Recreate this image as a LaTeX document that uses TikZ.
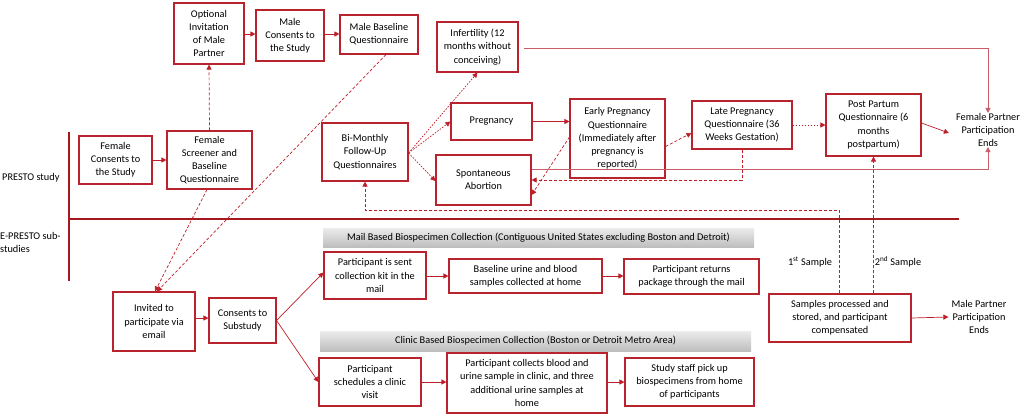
\documentclass[tikz,border=0pt]{standalone}
\usepackage{fontspec}
\setmainfont{Carlito}
\usetikzlibrary{arrows.meta}
\definecolor{boxred}{RGB}{185,35,45}
\definecolor{arrred}{RGB}{190,30,40}
\definecolor{linered}{RGB}{200,95,105}
\definecolor{divred}{RGB}{165,25,30}
\definecolor{barlight}{RGB}{236,236,236}
\definecolor{bardark}{RGB}{190,190,190}
\begin{document}
\begin{tikzpicture}[x=1pt,y=-1pt,
  every node/.style={font=\fontsize{10.3}{13.2}\selectfont, inner sep=0pt, align=center},
  box/.style={draw=boxred, line width=1.1pt, fill=white},
  bar/.style={top color=barlight, bottom color=bardark, draw=none},
  arr/.style={-{Triangle[length=5pt,width=5pt]}, color=arrred, line width=0.7pt},
  sol/.style={arr},
  dsh/.style={arr, dash pattern=on 3pt off 2pt},
  dot/.style={arr, dash pattern=on 1.6pt off 1.4pt},
  lng/.style={color=linered, line width=0.9pt},
]
\useasboundingbox (0,0) rectangle (1026,416);
% dividers
\draw[divred, line width=1.4pt] (69,132) -- (69,281);
\draw[divred, line width=1.4pt] (69,219) -- (959,219);
\node[anchor=west] (lpresto) at (2,178) {PRESTO study};
\node[anchor=west, align=left] (lepresto) at (0,242.5) {E-PRESTO sub-\\studies};
% top boxes
\node[box, minimum width=70, minimum height=61] (opt) at (209,33.5) {Optional\\Invitation\\of Male\\Partner};
\node[box, minimum width=68, minimum height=51] (mcons) at (290,35.5) {Male\\Consents to\\the Study};
\node[box, minimum width=78, minimum height=39] (mbase) at (379,34.5) {Male Baseline\\Questionnaire};
\node[box, minimum width=81, minimum height=50] (infert) at (477.5,47) {Infertility (12\\months without\\conceiving)};
\node[box, minimum width=73, minimum height=48] (fcons) at (115.5,160) {Female\\Consents to\\the Study};
\node[box, minimum width=85, minimum height=58] (fscreen) at (209.5,160) {Female\\Screener and\\Baseline\\Questionnaire};
\node[box, minimum width=86, minimum height=58] (bimon) at (365,152) {Bi-Monthly\\Follow-Up\\Questionnaires};
\node[box, minimum width=81, minimum height=37] (preg) at (491.5,121.5) {Pregnancy};
\node[box, minimum width=95, minimum height=50] (spont) at (483.5,180) {Spontaneous\\Abortion};
\node[box, minimum width=95, minimum height=79] (early) at (617.5,138.5) {Early Pregnancy\\Questionnaire\\(Immediately after\\pregnancy is\\reported)};
\node[box, minimum width=100, minimum height=48] (late) at (742,125) {Late Pregnancy\\Questionnaire (36\\Weeks Gestation)};
\node[box, minimum width=95, minimum height=62] (post) at (873.5,125) {Post Partum\\Questionnaire (6\\months\\postpartum)};
\node (fend) at (988,130) {Female Partner\\Participation\\Ends};
% bottom
\node[box, minimum width=82, minimum height=59] (invited) at (154,321.5) {Invited to\\participate via\\email};
\node[box, minimum width=67, minimum height=45] (csub) at (242.5,320.5) {Consents to\\Substudy};
\node[bar, minimum width=431, minimum height=19] (mailbar) at (538.5,237.5) {Mail Based Biospecimen Collection (Contiguous United States excluding Boston and Detroit)};
\node[box, minimum width=102, minimum height=47] (kit) at (375,275.5) {Participant is sent\\collection kit in the\\mail};
\node[box, minimum width=153, minimum height=34] (baseline) at (525.5,276) {Baseline urine and blood\\samples collected at home};
\node[box, minimum width=135, minimum height=35] (returns) at (691.5,276.5) {Participant returns\\package through the mail};
\node[bar, minimum width=431, minimum height=20] (clinicbar) at (535.5,341) {Clinic Based Biospecimen Collection (Boston or Detroit Metro Area)};
\node[box, minimum width=102, minimum height=48] (sched) at (370,382) {Participant\\schedules a clinic\\visit};
\node[box, minimum width=160, minimum height=60] (collects) at (527,383) {Participant collects blood and\\urine sample in clinic, and three\\additional urine samples at\\home};
\node[box, minimum width=129, minimum height=48] (staff) at (689.5,382) {Study staff pick up\\biospecimens from home\\of participants};
\node[box, minimum width=142, minimum height=48] (samples) at (840,318) {Samples processed and\\stored, and participant\\compensated};
\node (mend) at (979,317) {Male Partner\\Participation\\Ends};
\node (s1) at (810,262) {1\textsuperscript{st} Sample};
\node (s2) at (898,262) {2\textsuperscript{nd} Sample};
% connectors top
\draw[sol] (fcons.east) -- (fscreen.west);
\draw[dsh] (fscreen.north) -- (opt.south);
\draw[sol] (opt.east |- 0,34) -- (mcons.west |- 0,34);
\draw[sol] (mcons.east |- 0,34) -- (mbase.west |- 0,34);
\draw[dsh] ([xshift=-2.5pt]fscreen.south) -- ([xshift=1pt]invited.north);
\draw[dsh] ([xshift=7pt]mbase.south) -- ([xshift=3pt]invited.north);
\draw[lng, -{Triangle[length=5pt,width=5pt]}] ([xshift=5pt,yshift=-1pt]infert.east) -| (fend.north);
\coordinate (bm) at ([yshift=-1pt]bimon.east);
\draw[dot] (bm) -- (infert.south);
\draw[dot] (bm) -- (preg.west);
\draw[dot] (bm) -- ([yshift=-1pt]spont.west);
\draw[sol] (preg.east) -- (preg.east -| early.west);
\draw[dsh] ([yshift=1.5pt]early.west) -- ([yshift=-15pt]spont.east);
\draw[dsh] ([yshift=-8pt]early.east) -- ([yshift=-8pt]late.west);
\draw[dot] (late.east) -- (post.west);
\draw[sol] ([yshift=2pt]post.east) -- ([xshift=-7pt,yshift=-3pt]fend.west);
\draw[dsh] (late.south) |- (spont.east);
\draw[lng, -{Triangle[length=5pt,width=5pt]}] ([yshift=11pt]spont.east) -| (fend.south);
\draw[dsh] ([xshift=-1pt]samples.north) |- (365,210) -- (bimon.south);
\draw[dsh] (samples.north -| post.south) -- (post.south);
% connectors bottom
\draw[sol] (invited.east |- 0,318) -- (csub.west |- 0,318);
\draw[sol] (csub.east) -- ([yshift=3pt]kit.west);
\draw[sol] (csub.east) -- (sched.west);
\draw[sol] (kit.east |- baseline.west) -- (baseline.west);
\draw[sol] (baseline.east) -- (baseline.east -| returns.west);
\draw[sol] (sched.east) -- (sched.east -| collects.west);
\draw[sol] (collects.east |- staff.west) -- (staff.west);
\draw[sol] (samples.east) -- ([xshift=-3pt]mend.west);
\end{tikzpicture}
\end{document}
